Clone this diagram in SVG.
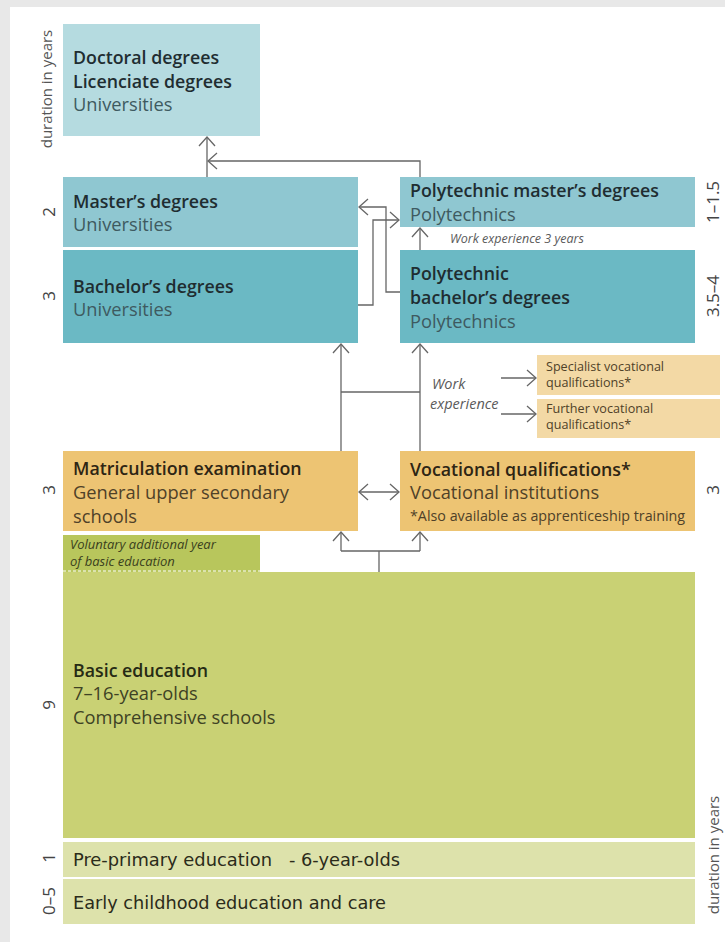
<svg xmlns="http://www.w3.org/2000/svg" width="725" height="942" viewBox="0 0 725 942">
<defs>
<style>
.t{font-family:"Open Sans","Noto Sans","Liberation Sans",sans-serif;font-size:18.3px;}
.h{font-weight:600;font-size:17.8px;fill:#1f2d31;}
.s{fill:#3e5a60;}
.ho{font-weight:600;font-size:17.8px;fill:#2e2514;}
.so{fill:#4f4128;}
.sm{font-size:14.3px;}
.xs{font-size:12.6px;}
.it{font-style:italic;fill:#5a5a5a;}
.lab{font-family:"Open Sans","Noto Sans","Liberation Sans",sans-serif;font-size:17px;fill:#444;text-anchor:middle;}
.dur{font-size:15px;fill:#555;}
.c{fill:none;stroke:#666;stroke-width:1.3;}
.cond{font-family:"DejaVu Sans Condensed","Liberation Sans",sans-serif;font-size:17.5px;fill:#2b2b1a;}
</style>
<marker id="ar" viewBox="-12 -10 14 20" markerWidth="14" markerHeight="20" refX="0" refY="0" orient="auto-start-reverse" markerUnits="userSpaceOnUse" overflow="visible">
<path d="M-9,-8 L0,0 L-9,8" fill="none" stroke="#666" stroke-width="1.3"/>
</marker>
</defs>
<rect x="0" y="0" width="725" height="942" fill="#e8e8e8"/>
<rect x="10" y="7" width="715" height="935" fill="#ffffff"/>

<g id="labels">
<text class="lab dur" transform="translate(52,89) rotate(-90)">duration in years</text>
<text class="lab" transform="translate(55,212) rotate(-90)">2</text>
<text class="lab" transform="translate(55,296) rotate(-90)">3</text>
<text class="lab" transform="translate(55,490) rotate(-90)">3</text>
<text class="lab" transform="translate(55,705) rotate(-90)">9</text>
<text class="lab" transform="translate(55,858) rotate(-90)">1</text>
<text class="lab" transform="translate(55,901) rotate(-90)">0–5</text>
<text class="lab" transform="translate(719,202) rotate(-90)">1–1.5</text>
<text class="lab" transform="translate(719,296) rotate(-90)">3.5–4</text>
<text class="lab" transform="translate(719,490) rotate(-90)">3</text>
<text class="lab dur" transform="translate(719,855) rotate(-90)">duration in years</text>
</g>

<g id="doctoral">
<rect x="63" y="24" width="197" height="112" fill="#b5dbe0"/>
<text class="t h" x="73" y="64">Doctoral degrees</text>
<text class="t h" x="73" y="88">Licenciate degrees</text>
<text class="t s" x="73" y="111">Universities</text>
</g>

<g id="masters">
<rect x="63" y="177" width="295" height="70" fill="#8fc7d1"/>
<text class="t h" x="73" y="208">Master’s degrees</text>
<text class="t s" x="73" y="231">Universities</text>
</g>

<g id="bachelors">
<rect x="63" y="250" width="295" height="93" fill="#6bb9c4"/>
<text class="t h" x="73" y="293">Bachelor’s degrees</text>
<text class="t s" x="73" y="316">Universities</text>
</g>

<g id="poly-masters">
<rect x="400" y="177" width="295" height="50" fill="#8fc7d1"/>
<text class="t h" x="410" y="197">Polytechnic master’s degrees</text>
<text class="t s" x="410" y="221">Polytechnics</text>
</g>

<g id="poly-bachelors">
<rect x="400" y="250" width="295" height="93" fill="#6bb9c4"/>
<text class="t h" x="410" y="280">Polytechnic</text>
<text class="t h" x="410" y="304">bachelor’s degrees</text>
<text class="t s" x="410" y="328">Polytechnics</text>
</g>

<g id="work-exp-3">
<text class="t it" x="450" y="243" style="font-size:12.5px">Work experience 3 years</text>
</g>

<g id="specialist">
<rect x="537" y="355" width="183" height="40" fill="#f3d9a5"/>
<text class="t so xs" x="546" y="371">Specialist vocational</text>
<text class="t so xs" x="546" y="387">qualifications*</text>
</g>

<g id="further">
<rect x="537" y="399" width="183" height="39" fill="#f3d9a5"/>
<text class="t so xs" x="546" y="413">Further vocational</text>
<text class="t so xs" x="546" y="429">qualifications*</text>
</g>

<g id="work-exp">
<text class="t it" x="432" y="389" style="font-size:14.5px">Work</text>
<text class="t it" x="430" y="409" style="font-size:14.5px">experience</text>
</g>

<g id="matriculation">
<rect x="63" y="451" width="295" height="80" fill="#edc473"/>
<text class="t ho" x="73" y="475">Matriculation examination</text>
<text class="t so" x="73" y="499">General upper secondary</text>
<text class="t so" x="73" y="523">schools</text>
</g>

<g id="vocational">
<rect x="400" y="451" width="295" height="80" fill="#edc473"/>
<text class="t ho" x="410" y="476">Vocational qualifications*</text>
<text class="t so" x="410" y="499">Vocational institutions</text>
<text class="t so sm" x="410" y="521">*Also available as apprenticeship training</text>
</g>

<g id="voluntary">
<rect x="63" y="535" width="197" height="37" fill="#b8c65c"/>
<line x1="63" y1="571" x2="260" y2="571" stroke="#ffffff" stroke-width="1" stroke-dasharray="3,2"/>
<text class="t it" x="70" y="549" style="fill:#3a3f1c;font-size:13px">Voluntary additional year</text>
<text class="t it" x="70" y="566" style="fill:#3a3f1c;font-size:13px">of basic education</text>
</g>

<g id="basic">
<rect x="63" y="572" width="632" height="266" fill="#c9d174"/>
<text class="t ho" x="73" y="677" style="fill:#262a14">Basic education</text>
<text class="t so" x="73" y="700" style="fill:#3e4224">7–16-year-olds</text>
<text class="t so" x="73" y="724" style="fill:#3e4224">Comprehensive schools</text>
</g>

<g id="pre-primary">
<rect x="63" y="842" width="632" height="35" fill="#dde2ab"/>
<text class="cond" x="73" y="866" textLength="199" lengthAdjust="spacingAndGlyphs">Pre-primary education</text>
<text class="cond" x="289" y="866" textLength="111" lengthAdjust="spacingAndGlyphs">- 6-year-olds</text>
</g>

<g id="early">
<rect x="63" y="879" width="632" height="45" fill="#dde2ab"/>
<text class="cond" x="73" y="909" textLength="313" lengthAdjust="spacingAndGlyphs">Early childhood education and care</text>
</g>

<g id="connectors">
<path class="c" d="M207,177 V137" marker-end="url(#ar)"/>
<path class="c" d="M420,177 V161 H208" marker-end="url(#ar)"/>
<path class="c" d="M400,292 H386 V207 H359" marker-end="url(#ar)"/>
<path class="c" d="M358,305 H373 V220 H399" marker-end="url(#ar)"/>
<path class="c" d="M420,250 V228" marker-end="url(#ar)"/>
<path class="c" d="M341,451 V344" marker-end="url(#ar)"/>
<path class="c" d="M420,451 V344" marker-end="url(#ar)"/>
<path class="c" d="M341,392 H420"/>
<path class="c" d="M501,378 H536" marker-end="url(#ar)"/>
<path class="c" d="M501,414 H536" marker-end="url(#ar)"/>
<path class="c" d="M359,492 H399" marker-start="url(#ar)" marker-end="url(#ar)"/>
<path class="c" d="M379,572 V551 M341,551 H420"/>
<path class="c" d="M341,551 V532" marker-end="url(#ar)"/>
<path class="c" d="M420,551 V532" marker-end="url(#ar)"/>
</g>
</svg>
